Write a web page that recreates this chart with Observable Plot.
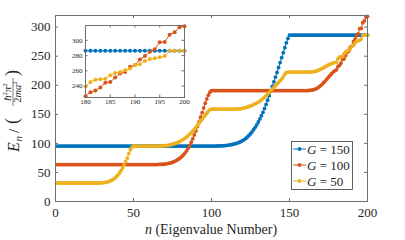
<!DOCTYPE html>
<html><head><meta charset="utf-8">
<script src="https://cdn.jsdelivr.net/npm/d3@7"></script>
<script src="https://cdn.jsdelivr.net/npm/@observablehq/plot@0.6"></script>
<style>
html,body{margin:0;padding:0;background:#fff;}
#wrap{position:relative;width:405px;height:240px;overflow:hidden;background:#fff;}
#wrap svg{position:absolute;left:0;top:0;}
</style></head><body><div id="wrap"></div>
<script>
// eigenvalue index n = 1..200
const n = d3.range(1, 201);

const E150 = [
95.3,95.3,95.3,95.3,95.3,95.3,95.3,95.3,95.3,95.3,
95.3,95.3,95.3,95.3,95.3,95.3,95.3,95.3,95.3,95.3,
95.3,95.3,95.3,95.3,95.3,95.3,95.3,95.3,95.3,95.3,
95.3,95.3,95.3,95.3,95.3,95.3,95.3,95.3,95.3,95.3,
95.3,95.3,95.3,95.3,95.3,95.3,95.3,95.3,95.3,95.3,
95.3,95.3,95.3,95.3,95.3,95.3,95.3,95.3,95.3,95.3,
95.3,95.3,95.3,95.3,95.3,95.3,95.3,95.3,95.3,95.3,
95.3,95.3,95.3,95.3,95.3,95.3,95.3,95.3,95.3,95.3,
95.3,95.3,95.3,95.3,95.3,95.3,95.3,95.3,95.3,95.3,
95.3,95.3,95.3,95.3,95.3,95.3,95.3,95.3,95.3,95.3,
95.3,95.4,95.4,95.5,95.6,95.7,95.8,96.0,96.3,96.6,
97.0,97.5,98.0,98.6,99.3,100.1,101.0,102.0,103.3,104.8,
106.6,108.6,111.0,113.6,116.6,119.9,123.6,127.6,132.0,136.8,
142.0,147.5,153.5,160.0,167.0,174.3,182.0,190.0,198.0,206.0,
214.0,222.0,230.5,239.0,247.5,256.0,264.5,273.0,280.5,286.2,
286.2,286.2,286.2,286.2,286.2,286.2,286.2,286.2,286.2,286.2,
286.2,286.2,286.2,286.2,286.2,286.2,286.2,286.2,286.2,286.2,
286.2,286.2,286.2,286.2,286.2,286.2,286.2,286.2,286.2,286.2,
286.2,286.2,286.2,286.2,286.2,286.2,286.2,286.2,286.2,286.2,
286.2,286.2,286.2,286.2,286.2,286.2,286.2,286.2,286.2,286.2
];

const E100 = [
63.6,63.6,63.6,63.6,63.6,63.6,63.6,63.6,63.6,63.6,
63.6,63.6,63.6,63.6,63.6,63.6,63.6,63.6,63.6,63.6,
63.6,63.6,63.6,63.6,63.6,63.6,63.6,63.6,63.6,63.6,
63.6,63.6,63.6,63.6,63.6,63.6,63.6,63.6,63.6,63.6,
63.6,63.6,63.6,63.6,63.6,63.6,63.6,63.6,63.6,63.6,
63.6,63.6,63.6,63.6,63.6,63.6,63.6,63.6,63.6,63.6,
63.6,63.6,63.6,63.6,63.6,63.7,63.8,63.9,64.1,64.4,
64.8,65.3,65.9,66.6,67.5,68.6,69.9,71.4,73.1,75.1,
77.4,80.0,83.3,87.0,91.5,96.5,102.0,108.0,114.5,121.5,
129.0,137.0,145.0,153.0,161.0,169.0,176.5,183.0,188.0,190.8,
190.8,190.8,190.8,190.8,190.8,190.8,190.8,190.8,190.8,190.8,
190.8,190.8,190.8,190.8,190.8,190.8,190.8,190.8,190.8,190.8,
190.8,190.8,190.8,190.8,190.8,190.8,190.8,190.8,190.8,190.8,
190.8,190.8,190.8,190.8,190.8,190.8,190.8,190.8,190.8,190.8,
190.8,190.8,190.8,190.8,190.8,190.8,190.8,190.8,190.8,190.8,
190.8,190.8,190.8,190.8,190.8,190.8,190.8,190.8,190.8,190.8,
190.9,191.0,191.2,191.5,192.0,192.8,193.9,195.4,197.3,199.5,
202.0,204.7,207.6,210.6,213.8,217.0,220.0,222.7,224.8,226.5,
232.0,234.3,238.0,244.4,245.3,251.1,256.4,258.6,265.3,267.5,
275.0,279.5,285.0,288.4,297.5,297.7,307.5,310.6,317.3,318.6
];

const E50 = [
31.8,31.8,31.8,31.8,31.8,31.8,31.8,31.8,31.8,31.8,
31.8,31.8,31.8,31.8,31.8,31.8,31.8,31.8,31.8,31.8,
31.8,31.8,31.8,31.8,31.8,31.8,31.8,31.9,32.0,32.2,
32.5,32.9,33.5,34.3,35.3,36.6,38.2,40.2,42.6,45.5,
49.0,53.0,57.6,62.8,68.5,74.6,82.5,89.0,93.5,95.4,
95.4,95.4,95.4,95.4,95.4,95.4,95.4,95.4,95.4,95.4,
95.4,95.4,95.4,95.4,95.4,95.4,95.5,95.6,95.8,96.0,
96.3,96.7,97.2,97.8,98.5,99.3,100.2,101.2,102.4,103.7,
105.2,106.9,108.8,110.9,113.2,115.7,118.4,121.3,124.4,127.6,
131.0,134.5,138.0,141.5,145.0,148.5,152.0,155.5,158.0,159.0,
159.0,159.0,159.0,159.0,159.0,159.0,159.0,159.0,159.0,159.0,
159.0,159.0,159.0,159.0,159.0,159.0,159.2,159.5,159.9,160.4,
161.0,161.7,162.5,163.4,164.4,165.5,166.7,168.0,169.4,171.0,
172.8,174.8,177.0,179.4,182.0,184.8,187.7,190.6,193.5,196.4,
199.3,202.2,205.0,207.8,210.8,214.5,219.0,222.0,222.5,222.6,
222.6,222.6,222.6,222.6,222.6,222.6,222.6,222.6,222.6,222.6,
222.6,222.6,222.6,222.8,223.1,223.6,224.3,225.2,226.3,227.6,
229.0,230.5,232.0,233.5,235.0,236.3,237.4,238.3,239.0,239.5,
245.3,248.4,248.8,249.7,254.2,257.3,258.6,260.8,263.0,267.5,
268.8,272.8,275.5,276.4,277.7,279.5,286.2,286.2,286.2,286.2
];

const seriesG = ["150", "100", "50"];
const colors = ["#0072BD", "#D95319", "#EDB120"];
const xTicks = [0, 50, 100, 150, 200];
const yTicks = [0, 50, 100, 150, 200, 250, 300];
const insetXTicks = [180, 185, 190, 195, 200];
const insetYTicks = [240, 260, 280, 300];
const insetRange = [180, 200];

const rows = [];
[E150, E100, E50].forEach((vals, k) => vals.forEach((v, i) => rows.push({n: n[i], E: v, s: seriesG[k]})));
const insetRows = rows.filter(d => d.n >= insetRange[0] && d.n <= insetRange[1]);

const serif = "'Liberation Serif', 'DejaVu Serif', serif";
const axisColor = "#6f6f6f";
const textColor = "#262626";

const W = 405, H = 240;
const mL = 55, mR = 38, mT = 15, mB = 39;
const pw = W - mL - mR, ph = H - mT - mB;

const main = Plot.plot({
  width: W, height: H,
  marginLeft: mL, marginRight: mR, marginTop: mT, marginBottom: mB,
  style: {fontFamily: serif, fontSize: "13px", color: textColor, background: "transparent"},
  x: {domain: [0, 200], label: null},
  y: {domain: [0, 320], label: null},
  color: {domain: seriesG, range: colors},
  marks: [
    Plot.line(rows, {x: "n", y: "E", z: "s", stroke: "s", strokeWidth: 1}),
    Plot.dot(rows, {x: "n", y: "E", fill: "s", r: 1.9}),
    Plot.frame({stroke: axisColor}),
    Plot.tickX(xTicks, {x: d => d, stroke: axisColor, insetTop: ph - 3}),
    Plot.tickX(xTicks, {x: d => d, stroke: axisColor, insetBottom: ph - 3}),
    Plot.tickY(yTicks, {y: d => d, stroke: axisColor, insetLeft: pw - 3}),
    Plot.tickY(yTicks, {y: d => d, stroke: axisColor, insetRight: pw - 3}),
    Plot.axisX(xTicks, {tickSize: 0, tickPadding: 6, fontSize: 13, label: null, fill: textColor}),
    Plot.axisY(yTicks, {tickSize: 0, tickPadding: 5, fontSize: 13, label: null, fill: textColor})
  ]
});

const iW = 125, iH = 90, iL = 20, iR = 6, iT = 5, iB = 13;
const ipw = iW - iL - iR, iph = iH - iT - iB;
const inset = Plot.plot({
  width: iW, height: iH,
  marginLeft: iL, marginRight: iR, marginTop: iT, marginBottom: iB,
  style: {fontFamily: serif, fontSize: "7px", color: textColor, background: "transparent"},
  x: {domain: insetRange, label: null},
  y: {domain: [225, 319.5], label: null},
  color: {domain: seriesG, range: colors},
  marks: [
    Plot.frame({fill: "white"}),
    Plot.line(insetRows, {x: "n", y: "E", z: "s", stroke: "s", strokeWidth: 1}),
    Plot.dot(insetRows, {x: "n", y: "E", fill: "s", r: 2}),
    Plot.frame({stroke: axisColor}),
    Plot.tickX(insetXTicks, {x: d => d, stroke: axisColor, insetTop: iph - 2.5}),
    Plot.tickX(insetXTicks, {x: d => d, stroke: axisColor, insetBottom: iph - 2.5}),
    Plot.tickY(insetYTicks, {y: d => d, stroke: axisColor, insetLeft: ipw - 2.5}),
    Plot.tickY(insetYTicks, {y: d => d, stroke: axisColor, insetRight: ipw - 2.5}),
    Plot.axisX(insetXTicks, {tickSize: 0, tickPadding: 2, fontSize: 7, label: null, fill: textColor}),
    Plot.axisY(insetYTicks, {tickSize: 0, tickPadding: 3, fontSize: 7, label: null, fill: textColor})
  ]
});

const wrap = document.getElementById("wrap");
wrap.appendChild(main);
wrap.appendChild(inset);
inset.style.left = "65px";
inset.style.top = "20px";

const svg = d3.select(main);

// x-axis label
const xl = svg.append("text").attr("x", mL + pw / 2).attr("y", 233.5)
  .attr("text-anchor", "middle").attr("fill", textColor)
  .style("font-family", serif).style("font-size", "14px");
xl.append("tspan").style("font-style", "italic").text("n");
xl.append("tspan").text(" (Eigenvalue Number)");

// y-axis label  E_n / (hbar^2 pi^2 / 2 m a^2)
const yl = svg.append("g").attr("transform", `translate(1.5,${mT + ph / 2}) rotate(-90)`)
  .attr("fill", textColor).attr("text-anchor", "start").style("font-family", serif);
yl.append("text").attr("x", -44).attr("y", 17).style("font-size", "16px").style("font-style", "italic").text("E");
yl.append("text").attr("x", -33.5).attr("y", 20).style("font-size", "11px").style("font-style", "italic").text("n");
yl.append("text").attr("x", -25).attr("y", 17).style("font-size", "15px").text("/");
yl.append("text").attr("x", -16).attr("y", 16.5).style("font-size", "18px").text("(");
const num = yl.append("text").attr("x", 16).attr("y", 9.5).attr("text-anchor", "middle").style("font-size", "10.5px");
num.append("tspan").style("font-style", "italic").text("ħ");
num.append("tspan").attr("dy", -3.8).style("font-size", "7px").text("2");
num.append("tspan").attr("dy", 3.8).style("font-style", "italic").text("π");
num.append("tspan").attr("dy", -3.8).style("font-size", "7px").text("2");
yl.append("line").attr("x1", 2).attr("x2", 30).attr("y1", 11.5).attr("y2", 11.5)
  .attr("stroke", textColor).attr("stroke-width", 0.6);
const den = yl.append("text").attr("x", 16).attr("y", 19.5).attr("text-anchor", "middle").style("font-size", "10.5px");
den.append("tspan").text("2");
den.append("tspan").style("font-style", "italic").text("ma");
den.append("tspan").attr("dy", -3.8).style("font-size", "7px").text("2");
yl.append("text").attr("x", 32).attr("y", 16.5).style("font-size", "18px").text(")");

// legend
const lg = svg.append("g").attr("text-anchor", "start");
lg.append("rect").attr("x", 291.5).attr("y", 141.5).attr("width", 61).attr("height", 48)
  .attr("fill", "white").attr("stroke", "#3a3a3a").attr("stroke-width", 0.8);
const rowY = [149, 165, 181];
seriesG.forEach((g, i) => {
  const y = rowY[i];
  lg.append("line").attr("x1", 293).attr("x2", 306).attr("y1", y).attr("y2", y)
    .attr("stroke", colors[i]).attr("stroke-width", 1);
  lg.append("circle").attr("cx", 299.5).attr("cy", y).attr("r", 1.9).attr("fill", colors[i]);
  const t = lg.append("text").attr("x", 307).attr("y", y + 4.5).attr("fill", textColor)
    .attr("text-anchor", "start")
    .style("font-family", serif).style("font-size", "13px");
  t.append("tspan").style("font-style", "italic").text("G");
  t.append("tspan").text(" = " + g);
});
</script>
</body></html>
